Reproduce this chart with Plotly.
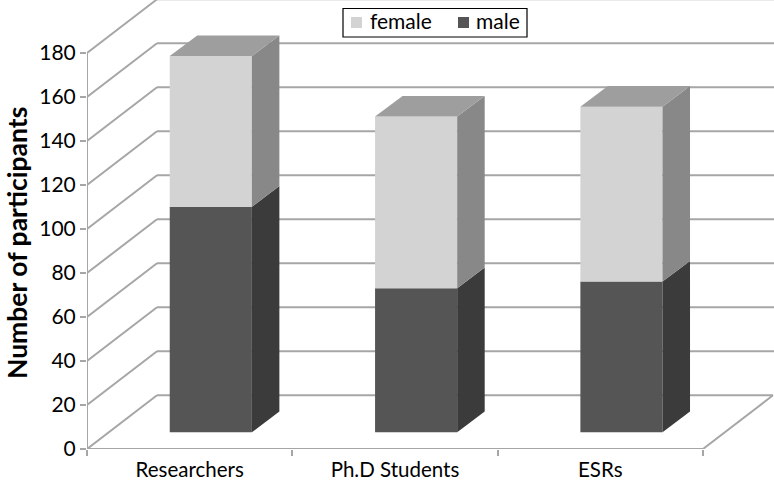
import plotly.graph_objects as go

categories = ["Researchers", "Ph.D Students", "ESRs"]
male = [102.5, 65.5, 68.5]
female = [68.5, 78, 79.5]
y_ticks = list(range(0, 181, 20))
series_names = ["female", "male"]
series_colors = ["#d3d3d3", "#555555"]

FRONT_DX, FRONT_DY = 0.103, 7.6     # bar front plane behind the axis plane
BAR_W = 0.40
SIDE_DX, SIDE_DY = 0.134, 9.4       # bar depth
WALL_DX, WALL_DY = 0.341, 24.4      # chart depth
GRID = "#a6a6a6"
X_END = 3.346
Y_TOP = 449 / 2.2
L, PW, PH = 87, 687, 449


def px(v):
    return (v - L) / PW


def py(v):
    return (PH - v) / PH


fig = go.Figure()
centres = [i + 0.5 + FRONT_DX for i in range(3)]

fig.add_trace(go.Bar(x=centres, y=male, base=FRONT_DY, width=BAR_W, name="male",
                     marker=dict(color=series_colors[1], line_width=0)))
fig.add_trace(go.Bar(x=centres, y=female, base=[FRONT_DY + m for m in male], width=BAR_W, name="female",
                     marker=dict(color=series_colors[0], line_width=0)))


def poly(xs, ys, color):
    fig.add_trace(go.Scatter(x=xs, y=ys, mode="lines", fill="toself", fillcolor=color,
                             line=dict(width=0, color=color), showlegend=False, hoverinfo="skip"))


for c, m, f in zip(centres, male, female):
    r = c + BAR_W / 2
    l = c - BAR_W / 2
    y0 = FRONT_DY
    y1 = FRONT_DY + m
    y2 = y1 + f
    poly([r, r + SIDE_DX, r + SIDE_DX, r, r], [y0, y0 + SIDE_DY, y1 + SIDE_DY, y1, y0], "#3b3b3b")
    poly([r, r + SIDE_DX, r + SIDE_DX, r, r], [y1, y1 + SIDE_DY, y2 + SIDE_DY, y2, y1], "#888888")
    poly([l, r, r + SIDE_DX, l + SIDE_DX, l], [y2, y2, y2 + SIDE_DY, y2 + SIDE_DY, y2], "#9e9e9e")

shapes = []


def seg(x0, y0, x1, y1):
    shapes.append(dict(type="line", xref="x", yref="y", x0=x0, y0=y0, x1=x1, y1=y1,
                       layer="below", line=dict(color=GRID, width=2)))


for v in y_ticks:
    seg(0, v, WALL_DX, v + WALL_DY)
    seg(WALL_DX, v + WALL_DY, X_END if v else 3 + WALL_DX, v + WALL_DY)
seg(0, 0, 0, 180)                       # value axis
seg(0, 0, 3, 0)                         # category axis
seg(3, 0, 3 + WALL_DX, WALL_DY)         # floor right edge

# legend box
shapes.append(dict(type="rect", xref="paper", yref="paper", x0=px(343), x1=px(527), y0=py(37), y1=py(8.5),
                   fillcolor="white", line=dict(color="black", width=1.2)))
annotations = []
for name, col, sw, tx in zip(series_names, series_colors, [351, 458], [369, 475]):
    shapes.append(dict(type="rect", xref="paper", yref="paper", x0=px(sw), x1=px(sw + 11), y0=py(28), y1=py(17),
                       fillcolor=col, line_width=0))
    annotations.append(dict(text=name, xref="paper", yref="paper", x=px(tx), y=py(21), xanchor="left",
                            yanchor="middle", showarrow=False, font=dict(size=21), borderpad=0))
annotations.append(dict(text="<b>Number of participants</b>", textangle=-90, xref="paper", yref="paper",
                        x=px(17), y=py(243), xanchor="center", yanchor="middle", showarrow=False,
                        font=dict(size=26.5)))

fig.update_layout(
    width=774, height=481,
    margin=dict(l=L, r=0, t=0, b=32),
    paper_bgcolor="white", plot_bgcolor="white",
    barmode="overlay", shapes=shapes, annotations=annotations, showlegend=False,
    font=dict(family="Lato", color="black"),
    xaxis=dict(range=[0, X_END], tickvals=[0.5, 1.5, 2.5], ticktext=categories, automargin=False,
               showgrid=False, zeroline=False, showline=False, ticks="",
               tickfont=dict(size=20.5), ticklabelstandoff=6,
               minor=dict(tick0=0, dtick=1, ticks="outside", ticklen=6, tickcolor=GRID,
                          tickwidth=2, showgrid=False)),
    yaxis=dict(range=[0, Y_TOP], tickvals=y_ticks, showgrid=False, zeroline=False, showline=False,
               automargin=False,
               ticks="outside", ticklen=6, tickcolor=GRID, tickwidth=2, tickfont=dict(size=21)),
)
fig.write_html("out.html", config={"displayModeBar": False},
               post_script="document.body.style.margin='0';document.body.style.overflow='hidden';")
